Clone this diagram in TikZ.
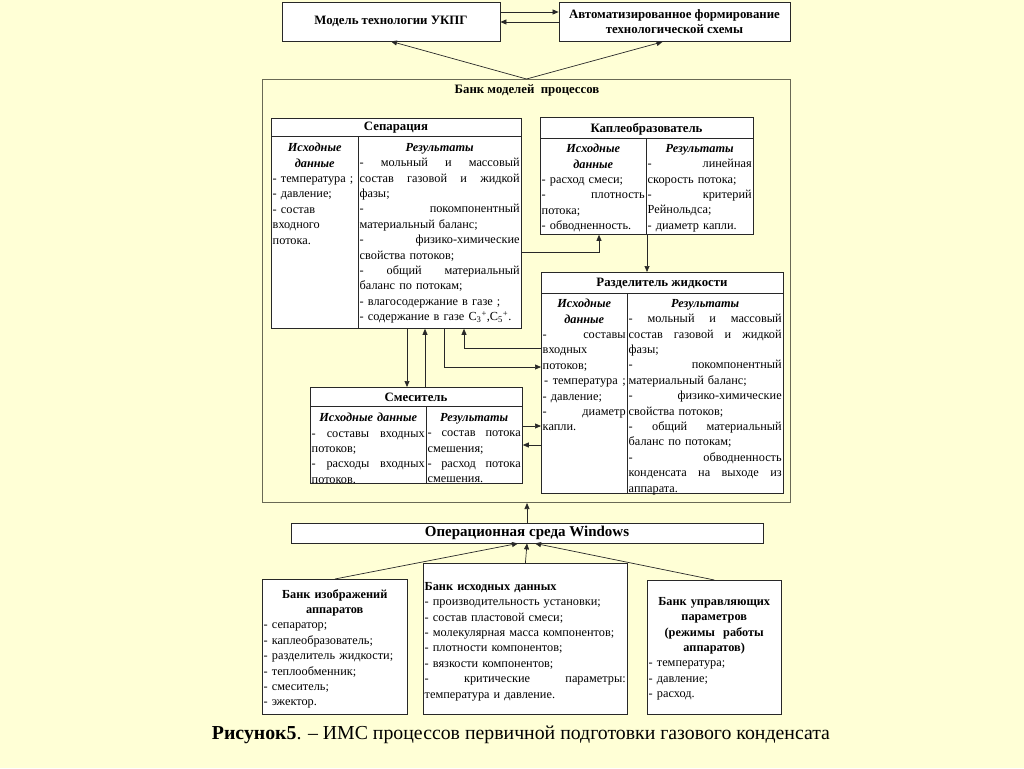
\documentclass[tikz,border=0pt]{standalone}
\usepackage{fontspec}
\setmainfont{Liberation Serif}
\usetikzlibrary{arrows.meta}

\definecolor{bgc}{RGB}{255,255,214}
\definecolor{linec}{RGB}{40,40,40}
\definecolor{bankc}{RGB}{105,105,85}

\newcommand{\bodyfont}{\fontsize{12.3}{15.4}\selectfont}
\newcommand{\jl}[1]{\makebox[\hsize][s]{\spaceskip=0pt\xspaceskip=0pt #1}}
\newcommand{\hd}[1]{\makebox[\hsize][c]{\bfseries\itshape #1}}
\newcommand{\hb}[1]{\makebox[\hsize][c]{\bfseries #1}}

\tikzset{
  box/.style={draw=linec, fill=white, line width=0.8pt, inner sep=0pt},
  tab/.style={box, anchor=north west},
  grid/.style={draw=linec, line width=0.8pt},
  cell/.style={anchor=north west, inner xsep=1.5pt, inner ysep=7pt, align=left, font=\bodyfont},
  ttl/.style={font=\fontsize{12.8}{15}\selectfont\bfseries},
  arr/.style={draw=linec, line width=0.7pt, -{Triangle[length=6pt,width=5pt]}},
}

\begin{document}
\begin{tikzpicture}[x=1pt,y=-1pt]
  \fill[bgc] (0,0) rectangle (1024,768);
  \useasboundingbox (0,0) rectangle (1024,768);

  % top row
  \node[box, ttl, minimum width=218pt, minimum height=39pt] (mod) at (391,21.5) {Модель технологии УКПГ};
  \node[box, ttl, align=center, minimum width=231pt, minimum height=39pt] (auto) at (674.5,22) {Автоматизированное формирование\\технологической схемы};

  % bank of models
  \node[draw=bankc, line width=1pt, inner sep=0pt, anchor=north west, minimum width=528pt, minimum height=423pt] (bank) at (262,79) {};
  \node[ttl] (banktitle) at (527,90) {Банк моделей\ \ процессов};

  % separation
  \node[tab, minimum width=250pt, minimum height=210pt] (sep) at (271,118) {};
  \draw[grid] (271,136) -- (521,136) (358,136) -- (358,328);
  \node[ttl] (septitle) at (396,128) {Сепарация};
  \node[cell, text width=84pt] (sepin) at (271,136) {\hd{Исходные}\\\hd{данные}\\- температура ;\\- давление;\\- состав\\входного\\потока.};
  \node[cell, text width=160pt] (sepout) at (358,136) {\hd{Результаты}\\\jl{- мольный и массовый}\\\jl{состав газовой и жидкой}\\фазы;\\\jl{- покомпонентный}\\материальный баланс;\\\jl{- физико-химические}\\свойства потоков;\\\jl{- общий материальный}\\баланс по потокам;\\- влагосодержание в газе ;\\- содержание в газе C\textsubscript{3}\textsuperscript{+},C\textsubscript{5}\textsuperscript{+}.};

  % droplet former
  \node[tab, minimum width=213pt, minimum height=117pt] (kap) at (540,117) {};
  \draw[grid] (540,138) -- (753,138) (646,138) -- (646,234);
  \node[ttl] (kaptitle) at (646.5,129) {Каплеобразователь};
  \node[cell, text width=103pt] (kapin) at (540,137) {\hd{Исходные}\\\hd{данные}\\- расход смеси;\\\jl{- плотность}\\потока;\\- обводненность.};
  \node[cell, text width=104pt] (kapout) at (646,137) {\hd{Результаты}\\\jl{- линейная}\\скорость потока;\\\jl{- критерий}\\Рейнольдса;\\- диаметр капли.};

  % liquid separator
  \node[tab, minimum width=242pt, minimum height=221pt] (raz) at (541,272) {};
  \draw[grid] (541,293) -- (783,293) (627,293) -- (627,493);
  \node[ttl] (raztitle) at (662,283) {Разделитель жидкости};
  \node[cell, text width=83pt] (razin) at (541,292) {\hd{Исходные}\\\hd{данные}\\\jl{- составы}\\входных\\потоков;\\\jl{\kern1.5pt- температура ;}\\- давление;\\\jl{- диаметр}\\капли.};
  \node[cell, text width=153pt] (razout) at (627,292) {\hd{Результаты}\\\jl{- мольный и массовый}\\\jl{состав газовой и жидкой}\\фазы;\\\jl{- покомпонентный}\\материальный баланс;\\\jl{- физико-химические}\\свойства потоков;\\\jl{- общий материальный}\\баланс по потокам;\\\jl{- обводненность}\\\jl{конденсата на выходе из}\\аппарата.};

  % mixer
  \node[tab, minimum width=212pt, minimum height=96pt] (mix) at (310,387) {};
  \draw[grid] (310,406) -- (522,406) (426,406) -- (426,483);
  \node[ttl] (mixtitle) at (416,397.5) {Смеситель};
  \node[cell, text width=113pt] (mixin) at (310,406) {\hd{Исходные данные}\\\jl{- составы входных}\\потоков;\\\jl{- расходы входных}\\потоков.};
  \node[cell, text width=93pt] (mixout) at (426,406) {\hd{Результаты}\\\jl{- состав потока}\\смешения;\\\jl{- расход потока}\\смешения.};

  % operating system and banks
  \node[box, font=\fontsize{15}{16}\selectfont\bfseries, minimum width=472pt, minimum height=20pt] (win) at (527,533) {Операционная среда Windows};
  \node[tab, minimum width=145pt, minimum height=135pt] (img) at (262,579) {};
  \node[cell, text width=142pt] (imgtxt) at (262,582) {\hb{Банк изображений}\\\hb{аппаратов}\\- сепаратор;\\- каплеобразователь;\\- разделитель жидкости;\\- теплообменник;\\- смеситель;\\- эжектор.};
  \node[tab, minimum width=204pt, minimum height=151pt] (dat) at (423,563) {};
  \node[cell, text width=201pt] (dattxt) at (423,575) {\textbf{Банк исходных данных}\\- производительность установки;\\- состав пластовой смеси;\\- молекулярная масса компонентов;\\- плотности компонентов;\\- вязкости компонентов;\\\jl{- критические параметры:}\\температура и давление.};
  \node[tab, minimum width=134pt, minimum height=134pt] (ctl) at (647,580) {};
  \node[cell, text width=131pt] (ctltxt) at (647,590) {\hb{Банк управляющих}\\\hb{параметров}\\\hb{(режимы\ \ работы}\\\hb{аппаратов)}\\- температура;\\- давление;\\- расход.};

  \node[font=\fontsize{19.8}{22}\selectfont] (cap) at (521,735) {\textbf{Рисунок5}. – ИМС процессов первичной подготовки газового конденсата};

  % bend points
  \coordinate (ya) at (0,12);
  \coordinate (yb) at (0,22);
  \coordinate (k1) at (599,252);
  \coordinate (k2) at (647,0);
  \coordinate (m1) at (407,0);
  \coordinate (m2) at (425,0);
  \coordinate (r1) at (464,348);
  \coordinate (r2) at (444,367);
  \coordinate (r3) at (0,426);
  \coordinate (r4) at (0,445);

  % connectors
  \draw[arr] (mod.east |- ya) -- (auto.west |- ya);
  \draw[arr] (auto.west |- yb) -- (mod.east |- yb);
  \draw[arr] (bank.north) -- (mod.south);
  \draw[arr] (bank.north) -- ([xshift=-12pt]auto.south);
  \draw[arr] (sep.east |- k1) -| (kap.south -| k1);
  \draw[arr] (kap.south -| k2) -- (raz.north -| k2);
  \draw[arr] (sep.south -| m1) -- (mix.north -| m1);
  \draw[arr] (mix.north -| m2) -- (sep.south -| m2);
  \draw[arr] (raz.west |- r1) -| (sep.south -| r1);
  \draw[arr] (sep.south -| r2) |- (raz.west |- r2);
  \draw[arr] (mix.east |- r3) -- (raz.west |- r3);
  \draw[arr] (raz.west |- r4) -- (mix.east |- r4);
  \draw[arr] (win.north) -- (win.north |- bank.south);
  \draw[arr] (img.north) -- ([xshift=-9pt]win.south);
  \draw[arr] (dat.north) -- (win.south);
  \draw[arr] (ctl.north) -- ([xshift=8pt]win.south);
\end{tikzpicture}
\end{document}
